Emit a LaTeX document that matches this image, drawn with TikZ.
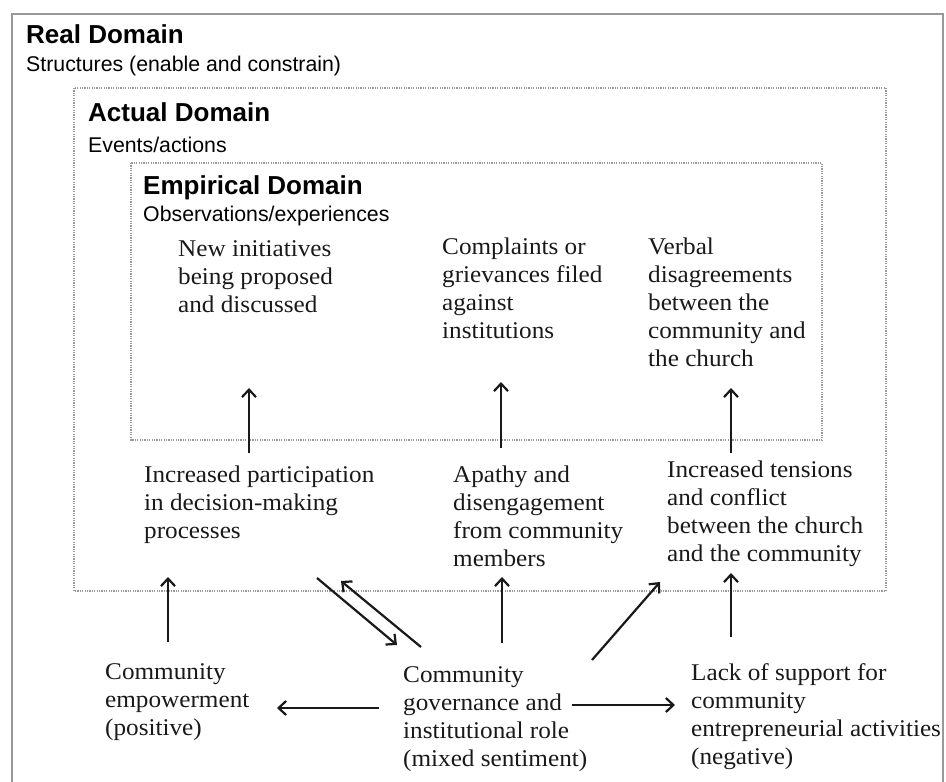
\documentclass[tikz,border=0pt]{standalone}
\usepackage{fontspec}
\setmainfont{Liberation Serif}[FakeStretch=1.05]
\setsansfont{Liberation Sans}
\usetikzlibrary{arrows.meta}

\tikzset{
  txt/.style={anchor=north west, inner sep=0pt, align=left, text=black!90, font=\fontsize{24}{28}\selectfont},
  dtitle/.style={anchor=base west, inner sep=0pt, font=\sffamily\bfseries\fontsize{26}{30}\selectfont},
  dsub/.style={anchor=base west, inner sep=0pt, font=\sffamily\fontsize{21.3}{25}\selectfont},
  dombox/.style={draw=gray!80, line width=1.5pt, dash pattern=on 1.2pt off 1.2pt},
  arr/.style={-{Straight Barb[length=7.5pt,width=14pt]}, line width=2.2pt, draw=black!90}
}

\begin{document}
\begin{tikzpicture}[x=1pt,y=-1pt]
    \useasboundingbox (0,0) rectangle (946,782);

    % domain frames
    \draw [gray!80, line width=1.8pt] (12,782)--(12,14)--(943,14)--(943,782);
    \draw [dombox] (74,88) rectangle (886,591);
    \draw [dombox] (131,163) rectangle (822,440);

    \node [dtitle] (realT) at (26,43) {Real Domain};
    \node [dsub] (realS) at (26,71) {Structures (enable and constrain)};
    \node [dtitle] (actT) at (88,121) {Actual Domain};
    \node [dsub] (actS) at (88,152) {Events/actions};
    \node [dtitle] (empT) at (143,194) {Empirical Domain};
    \node [dsub] (empS) at (143,221) {Observations/experiences};

    % empirical
    \node [txt] (new) at (178,240) {New initiatives\\being proposed\\and discussed};
    \node [txt] (compl) at (442,238) {Complaints or\\grievances filed\\against\\institutions};
    \node [txt] (verbal) at (648,238) {Verbal\\disagreements\\between the\\community and\\the church};

    % actual
    \node [txt] (part) at (144,466) {Increased participation\\in decision-making\\processes};
    \node [txt] (apathy) at (453,466) {Apathy and\\disengagement\\from community\\members};
    \node [txt] (tens) at (667,461) {Increased tensions\\and conflict\\between the church\\and the community};

    % real
    \node [txt] (empow) at (105,663) {Community\\empowerment\\(positive)};
    \node [txt] (gov) at (403,666) {Community\\governance and\\institutional role\\(mixed sentiment)};
    \node [txt] (lack) at (691,663) {Lack of support for\\community\\entrepreneurial activities\\(negative)};

    \draw [arr] ([shift={(105,-13)}]part.north west) -- ([shift={(71,148)}]new.north west);
    \draw [arr] ([shift={(48,-18)}]apathy.north west) -- ([shift={(59,144)}]compl.north west);
    \draw [arr] ([shift={(64,-8)}]tens.north west) -- ([shift={(83,150)}]verbal.north west);
    \draw [arr] ([shift={(40,-26)}]lack.north west) -- ([shift={(64,112)}]tens.north west);
    \draw [arr] ([shift={(99,-23)}]gov.north west) -- ([shift={(49,111)}]apathy.north west);
    \draw [arr] ([shift={(63,-21)}]empow.north west) -- ([shift={(24,111)}]part.north west);
    \draw [arr] ([shift={(189,-6)}]gov.north west) -- ([shift={(-7,121)}]tens.north west);
    \draw [arr] ([shift={(173,112)}]part.north west) -- ([shift={(-6,-21)}]gov.north west);
    \draw [arr] ([shift={(18,-19)}]gov.north west) -- ([shift={(197,115)}]part.north west);
    \draw [arr] ([shift={(-24,42)}]gov.north west) -- ([shift={(172,45)}]empow.north west);
    \draw [arr] ([shift={(169,39)}]gov.north west) -- ([shift={(-16,42)}]lack.north west);

\end{tikzpicture}
\end{document}
